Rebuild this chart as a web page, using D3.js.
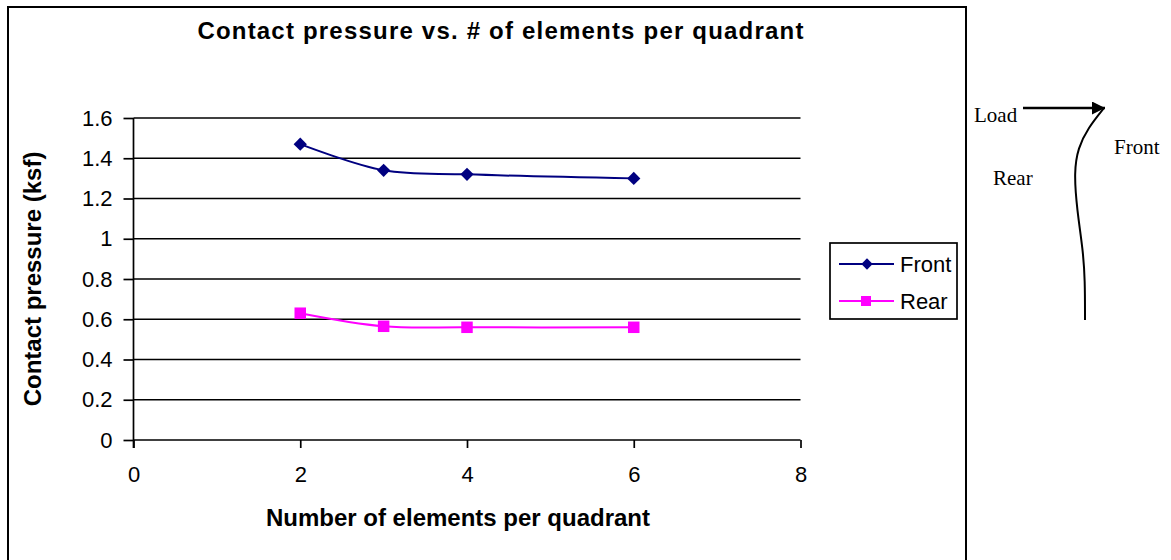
<!DOCTYPE html>
<html>
<head>
<meta charset="utf-8">
<script src="https://cdn.jsdelivr.net/npm/d3@7"></script>
<style>
  html, body { margin: 0; padding: 0; background: #fff; }
  svg { display: block; }
</style>
</head>
<body>
<svg id="chart" width="1171" height="560"></svg>
<script>
// Number of elements per quadrant
const elements = [2, 3, 4, 6];
// Contact pressure (ksf) on each face
const frontPressure = [1.47, 1.34, 1.32, 1.30];
const rearPressure  = [0.63, 0.565, 0.56, 0.56];
const seriesNames = ["Front", "Rear"];
const seriesColors = ["#000080", "#FF00FF"];
const xTicks = [0, 2, 4, 6, 8];
const yTicks = [0, 0.2, 0.4, 0.6, 0.8, 1, 1.2, 1.4, 1.6];

const titleText = "Contact pressure vs. # of elements per quadrant";
const xTitle = "Number of elements per quadrant";
const yTitle = "Contact pressure (ksf)";

const sans = "'Liberation Sans', Arial, sans-serif";
const serif = "'Liberation Serif', 'Times New Roman', serif";

const svg = d3.select("#chart");

// chart frame
svg.append("rect")
  .attr("x", 8).attr("y", 7).attr("width", 958).attr("height", 570)
  .attr("fill", "none").attr("stroke", "#000").attr("stroke-width", 2);

const x = d3.scaleLinear().domain([0, 8]).range([133.5, 800.5]);
const y = d3.scaleLinear().domain([0, 1.6]).range([440, 118]);

// horizontal gridlines
svg.append("g")
  .selectAll("line")
  .data(yTicks.filter(v => v > 0))
  .join("line")
  .attr("x1", x(0)).attr("x2", x(8))
  .attr("y1", d => y(d)).attr("y2", d => y(d))
  .attr("stroke", "#000").attr("stroke-width", 1.7);

// y axis
const yAxis = svg.append("g")
  .attr("transform", `translate(${x(0)},0)`)
  .call(d3.axisLeft(y).tickValues(yTicks).tickSize(10).tickPadding(11)
    .tickFormat(d => d3.format("")(+d.toFixed(1))));
yAxis.select(".domain").attr("d", `M0,${y(1.6)}V${y(0) + 8}`);

// x axis
const xAxis = svg.append("g")
  .attr("transform", `translate(0,${y(0)})`)
  .call(d3.axisBottom(x).tickValues(xTicks).tickSize(8).tickPadding(18));
xAxis.select(".domain").attr("d", `M${x(0)},0H${x(8)}`);

svg.selectAll(".tick line, .domain").attr("stroke", "#000").attr("stroke-width", 1.7);
svg.selectAll(".tick text")
  .attr("font-family", sans).attr("font-size", 22).attr("fill", "#000");

// titles
svg.append("text")
  .attr("x", 501).attr("y", 39).attr("text-anchor", "middle")
  .attr("font-family", sans).attr("font-weight", "bold").attr("font-size", 24)
  .attr("letter-spacing", 1.2)
  .text(titleText);

svg.append("text")
  .attr("x", 458).attr("y", 526).attr("text-anchor", "middle")
  .attr("font-family", sans).attr("font-weight", "bold").attr("font-size", 24)
  .text(xTitle);

svg.append("text")
  .attr("transform", `translate(41,${279}) rotate(-90)`)
  .attr("text-anchor", "middle")
  .attr("font-family", sans).attr("font-weight", "bold").attr("font-size", 24)
  .text(yTitle);

// series lines and markers
const line = d3.line()
  .x(d => x(d[0])).y(d => y(d[1]))
  .curve(d3.curveCatmullRom.alpha(0.5));

const series = [frontPressure, rearPressure].map((vals, i) => ({
  name: seriesNames[i],
  color: seriesColors[i],
  points: elements.map((e, j) => [e, vals[j]])
}));

series.forEach((s, i) => {
  svg.append("path")
    .attr("d", line(s.points))
    .attr("fill", "none").attr("stroke", s.color).attr("stroke-width", 2);

  svg.append("g").selectAll("path")
    .data(s.points)
    .join("path")
    .attr("transform", d => i === 0
      ? `translate(${x(d[0])},${y(d[1])}) rotate(45)`
      : `translate(${x(d[0])},${y(d[1])})`)
    .attr("d", d3.symbol().type(d3.symbolSquare).size(i === 0 ? 88 : 132)())
    .attr("fill", s.color);
});

// legend
const legend = svg.append("g");
legend.append("rect")
  .attr("x", 830).attr("y", 243).attr("width", 127).attr("height", 76)
  .attr("fill", "#fff").attr("stroke", "#000").attr("stroke-width", 1.7);

series.forEach((s, i) => {
  const ly = 264 + i * 37;
  legend.append("line")
    .attr("x1", 839).attr("x2", 894).attr("y1", ly).attr("y2", ly)
    .attr("stroke", s.color).attr("stroke-width", 2);
  legend.append("path")
    .attr("transform", i === 0 ? `translate(867,${ly}) rotate(45)` : `translate(866,${ly})`)
    .attr("d", d3.symbol().type(d3.symbolSquare).size(i === 0 ? 64 : 100)())
    .attr("fill", s.color);
  legend.append("text")
    .attr("x", 900).attr("y", ly + 8)
    .attr("font-family", sans).attr("font-size", 22)
    .text(s.name);
});

// pile sketch: load arrow and deflected shape
const sketch = svg.append("g");
sketch.append("defs").append("marker")
  .attr("id", "arrowhead")
  .attr("viewBox", "0 0 10 10").attr("refX", 10).attr("refY", 5)
  .attr("markerWidth", 16).attr("markerHeight", 13)
  .attr("markerUnits", "userSpaceOnUse")
  .attr("orient", "auto")
  .append("path").attr("d", "M0,0L10,5L0,10Z").attr("fill", "#000");

sketch.append("line")
  .attr("x1", 1023).attr("y1", 108).attr("x2", 1105).attr("y2", 108)
  .attr("stroke", "#000").attr("stroke-width", 2.5)
  .attr("marker-end", "url(#arrowhead)");

sketch.append("path")
  .attr("d", d3.line().curve(d3.curveBasis)([
    [1104, 108], [1088, 128], [1078, 148], [1074, 172],
    [1077, 210], [1083, 250], [1085, 280], [1085, 320]
  ]))
  .attr("fill", "none").attr("stroke", "#000").attr("stroke-width", 2);

sketch.append("text").attr("x", 974).attr("y", 122)
  .attr("font-family", serif).attr("font-size", 21).text("Load");
sketch.append("text").attr("x", 1114).attr("y", 154)
  .attr("font-family", serif).attr("font-size", 21).text("Front");
sketch.append("text").attr("x", 993).attr("y", 185)
  .attr("font-family", serif).attr("font-size", 21).text("Rear");
</script>
</body>
</html>
